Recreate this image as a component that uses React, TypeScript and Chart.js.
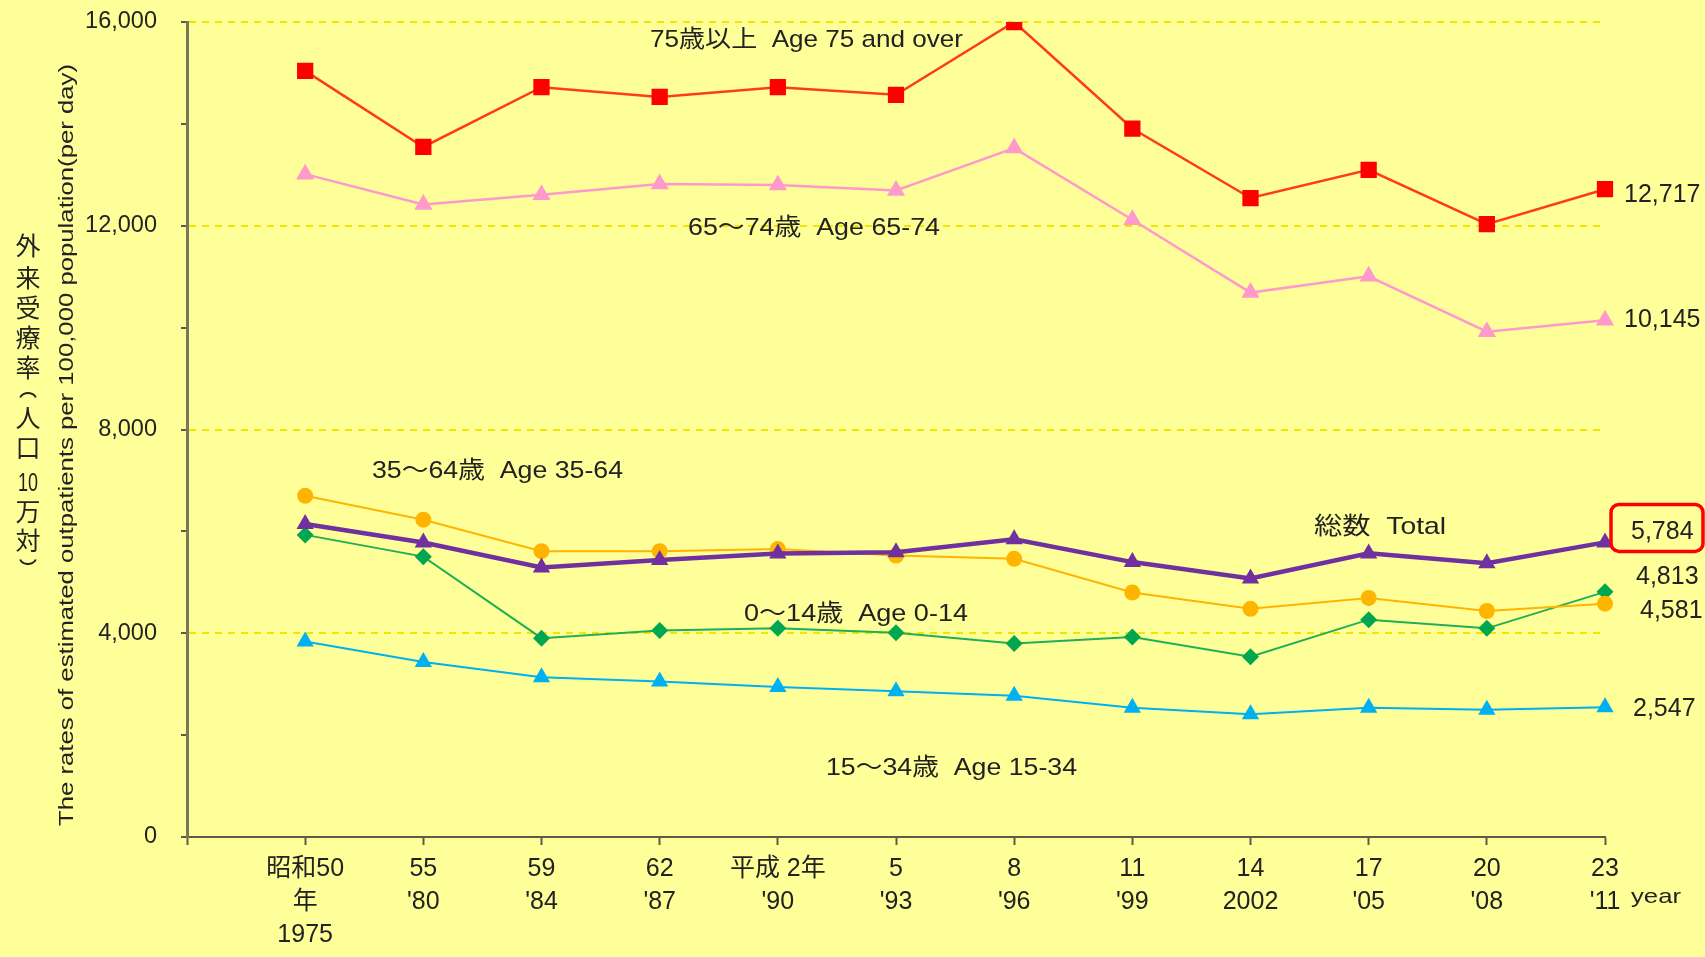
import React, { useEffect, useRef } from 'react';
import { Chart, registerables } from 'chart.js';

Chart.register(...registerables);

// ---- data ----
const categories: string[][] = [
  ['昭和50', '年', '1975'],
  ['55', "'80"],
  ['59', "'84"],
  ['62', "'87"],
  ['平成 2年', "'90"],
  ['5', "'93"],
  ['8', "'96"],
  ['11', "'99"],
  ['14', '2002'],
  ['17', "'05"],
  ['20', "'08"],
  ['23', "'11"],
];

const totalRates = [6144, 5781, 5291, 5440, 5568, 5589, 5845, 5397, 5077, 5568, 5376, 5784];
const age75over = [15040, 13547, 14720, 14528, 14720, 14571, 16000, 13909, 12544, 13099, 12032, 12717];
const age65to74 = [13013, 12416, 12608, 12821, 12800, 12693, 13525, 12117, 10688, 11008, 9920, 10145];
const age35to64 = [6699, 6229, 5611, 5611, 5653, 5525, 5461, 4800, 4480, 4693, 4437, 4581];
const age0to14 = [5931, 5504, 3904, 4053, 4096, 4011, 3797, 3925, 3541, 4267, 4096, 4813];
const age15to34 = [3840, 3435, 3136, 3051, 2944, 2859, 2773, 2539, 2411, 2539, 2496, 2547];

const yTicksMax = 16000;
const yTickStep = 2000;
const yLabelStep = 4000;

const seriesNames = ['総数  Total', '75歳以上  Age 75 and over', '65～74歳  Age 65-74', '35～64歳  Age 35-64', '0～14歳  Age 0-14', '15～34歳  Age 15-34'];

const FONT = "'Liberation Sans', 'Noto Sans CJK JP', sans-serif";
const BG = '#FFFF99';
const AXIS = '#5c5c48';

export default function App() {
  const ref = useRef<HTMLCanvasElement | null>(null);

  useEffect(() => {
    if (!ref.current) return;
    const pad = (arr: number[]) => [null, ...arr];

    const fitText = (ctx: CanvasRenderingContext2D, text: string, x: number, y: number, width: number, font: string) => {
      ctx.font = font;
      const w = ctx.measureText(text).width;
      ctx.save();
      ctx.translate(x, y);
      ctx.scale(width / w, 1);
      ctx.textAlign = 'left';
      ctx.textBaseline = 'middle';
      ctx.fillText(text, 0, 0);
      ctx.restore();
    };

    const decor = {
      id: 'decor',
      beforeDraw(chart: any) {
        const { ctx } = chart;
        ctx.save();
        ctx.fillStyle = BG;
        ctx.fillRect(0, 0, chart.width, chart.height);
        ctx.restore();
      },
      afterDraw(chart: any) {
        const { ctx, chartArea } = chart;
        const ys = chart.scales.y;
        ctx.save();
        ctx.fillStyle = '#222';

        // series annotations
        const notes: [string, number, number, number][] = [
          [seriesNames[1], 650, 40, 313],
          [seriesNames[2], 688, 228, 252],
          [seriesNames[3], 372, 471, 251],
          [seriesNames[0], 1314, 527, 132],
          [seriesNames[4], 744, 614, 224],
          [seriesNames[5], 826, 768, 251],
        ];
        notes.forEach(([t, x, y, w]) => fitText(ctx, t, x, y, w, `24px ${FONT}`));

        // end-value labels
        const ends: [number[], number, number][] = [
          [age75over, 19, 6],
          [age65to74, 19, 0],
          [totalRates, 26, -10],
          [age0to14, 31, -15],
          [age35to64, 35, 7],
          [age15to34, 28, 2],
        ];
        ctx.font = `25px ${FONT}`;
        ctx.textAlign = 'left';
        ctx.textBaseline = 'middle';
        ends.forEach(([arr, dx, dy], i) => {
          const v = arr[arr.length - 1];
          const x = chartArea.right + dx;
          const y = ys.getPixelForValue(v) + dy;
          ctx.fillText(v.toLocaleString('en-US'), x, y);
          if (i === 2) {
            ctx.save();
            ctx.strokeStyle = '#ff0000';
            ctx.lineWidth = 3.5;
            ctx.beginPath();
            (ctx as any).roundRect(chartArea.right + 6, y - 28, 92, 47, 8);
            ctx.stroke();
            ctx.restore();
          }
        });

        // "year"
        fitText(ctx, 'year', 1631, 897, 50, `21px ${FONT}`);

        // English y title
        ctx.save();
        ctx.translate(67, 445);
        ctx.rotate(-Math.PI / 2);
        const en = 'The rates of estimated outpatients per 100,000 population(per day)';
        ctx.font = `21px ${FONT}`;
        const ew = ctx.measureText(en).width;
        ctx.scale(762 / ew, 1);
        ctx.textAlign = 'center';
        ctx.textBaseline = 'middle';
        ctx.fillText(en, 0, 0);
        ctx.restore();

        // Japanese vertical title (縦書き)
        const jp: [string, number][] = [
          ['外', 245], ['来', 277], ['受', 307], ['療', 337], ['率', 367],
          ['︵', 394], ['人', 417], ['口', 447], ['10', 484], ['万', 511], ['対', 540], ['︶', 563],
        ];
        ctx.textAlign = 'center';
        ctx.textBaseline = 'middle';
        jp.forEach(([c, y]) => {
          if (c === '︵' || c === '︶') {
            ctx.save();
            ctx.strokeStyle = '#222';
            ctx.lineWidth = 2;
            ctx.beginPath();
            if (c === '︵') ctx.ellipse(28, y + 5, 8, 6, 0, Math.PI * 1.08, Math.PI * 1.92);
            else ctx.ellipse(28, y - 5, 8, 6, 0, Math.PI * 0.08, Math.PI * 0.92);
            ctx.stroke();
            ctx.restore();
            return;
          }
          ctx.save();
          ctx.translate(28, y);
          if (c === '10') {
            ctx.font = `25px ${FONT}`;
            ctx.scale(0.72, 1);
          } else {
            ctx.font = `25px 'Noto Sans CJK JP', sans-serif`;
          }
          ctx.fillText(c, 0, 0);
          ctx.restore();
        });
        ctx.restore();
      },
    };

    const chart = new Chart(ref.current, {
      type: 'line',
      data: {
        labels: [[''], ...categories],
        datasets: [
          {
            label: seriesNames[0], data: pad(totalRates), borderColor: '#7030A0', backgroundColor: '#7030A0',
            borderWidth: 4.5, pointStyle: 'triangle', pointRadius: 10, pointBorderWidth: 0, pointBackgroundColor: '#7030A0',
          },
          {
            label: seriesNames[1], data: pad(age75over), borderColor: '#FF3B1A', backgroundColor: '#FF0000',
            borderWidth: 2.5, pointStyle: 'rect', pointRadius: 11.5, pointBorderWidth: 0, pointBackgroundColor: '#FF0000',
          },
          {
            label: seriesNames[2], data: pad(age65to74), borderColor: '#FF99CC', backgroundColor: '#FF99CC',
            borderWidth: 2.5, pointStyle: 'triangle', pointRadius: 10.5, pointBorderWidth: 0, pointBackgroundColor: '#FF99CC',
          },
          {
            label: seriesNames[3], data: pad(age35to64), borderColor: '#FFB400', backgroundColor: '#FFB400',
            borderWidth: 2, pointStyle: 'circle', pointRadius: 8, pointBorderWidth: 0, pointBackgroundColor: '#FFB400',
          },
          {
            label: seriesNames[4], data: pad(age0to14), borderColor: '#1FAF55', backgroundColor: '#00A650',
            borderWidth: 2, pointStyle: 'rectRot', pointRadius: 8.5, pointBorderWidth: 0, pointBackgroundColor: '#00A650',
          },
          {
            label: seriesNames[5], data: pad(age15to34), borderColor: '#00B0F0', backgroundColor: '#00B0F0',
            borderWidth: 2, pointStyle: 'triangle', pointRadius: 10, pointBorderWidth: 0, pointBackgroundColor: '#00B0F0',
          },
        ],
      },
      options: {
        responsive: false,
        animation: false,
        devicePixelRatio: 1,
        layout: { padding: { top: 22, right: 100, bottom: 0, left: 0 }, autoPadding: false },
        plugins: { legend: { display: false }, tooltip: { enabled: false } },
        elements: { line: { tension: 0 } },
        scales: {
          x: {
            type: 'category',
            offset: false,
            afterFit: (s: any) => { s.height = 120; s.paddingLeft = 0; s.paddingRight = 0; },
            grid: { display: true, drawOnChartArea: false, drawTicks: true, tickLength: 8, tickColor: AXIS, tickWidth: 2, color: AXIS },
            border: { display: true, color: AXIS, width: 2 },
            ticks: {
              autoSkip: false, maxRotation: 0, minRotation: 0, padding: 8, color: '#222',
              font: { family: FONT, size: 25, lineHeight: 1.32 },
            },
          },
          y: {
            min: 0,
            max: yTicksMax,
            afterFit: (s: any) => { s.width = 187; s.paddingTop = 0; s.paddingBottom = 0; },
            ticks: {
              stepSize: yTickStep,
              padding: 24,
              color: '#222',
              font: { family: FONT, size: 23.5 },
              callback: (v: any) => (Number(v) % yLabelStep === 0 ? Number(v).toLocaleString('en-US') : ''),
            },
            grid: {
              color: (c: any) => (c.tick && c.tick.value > 0 && c.tick.value % yLabelStep === 0 ? '#F2E600' : 'rgba(0,0,0,0)'),
              lineWidth: 2,
              tickLength: 6,
              tickColor: AXIS,
              tickWidth: 2,
            },
            border: { display: true, color: '#77775a', width: 3, dash: [7, 6] },
          },
        },
      },
      plugins: [decor],
    } as any);

    return () => chart.destroy();
  }, []);

  return (
    <div style={{ position: 'absolute', left: 0, top: 0, width: 1705, height: 957, background: BG }}>
      <canvas ref={ref} width={1705} height={957} style={{ display: 'block' }} />
    </div>
  );
}
